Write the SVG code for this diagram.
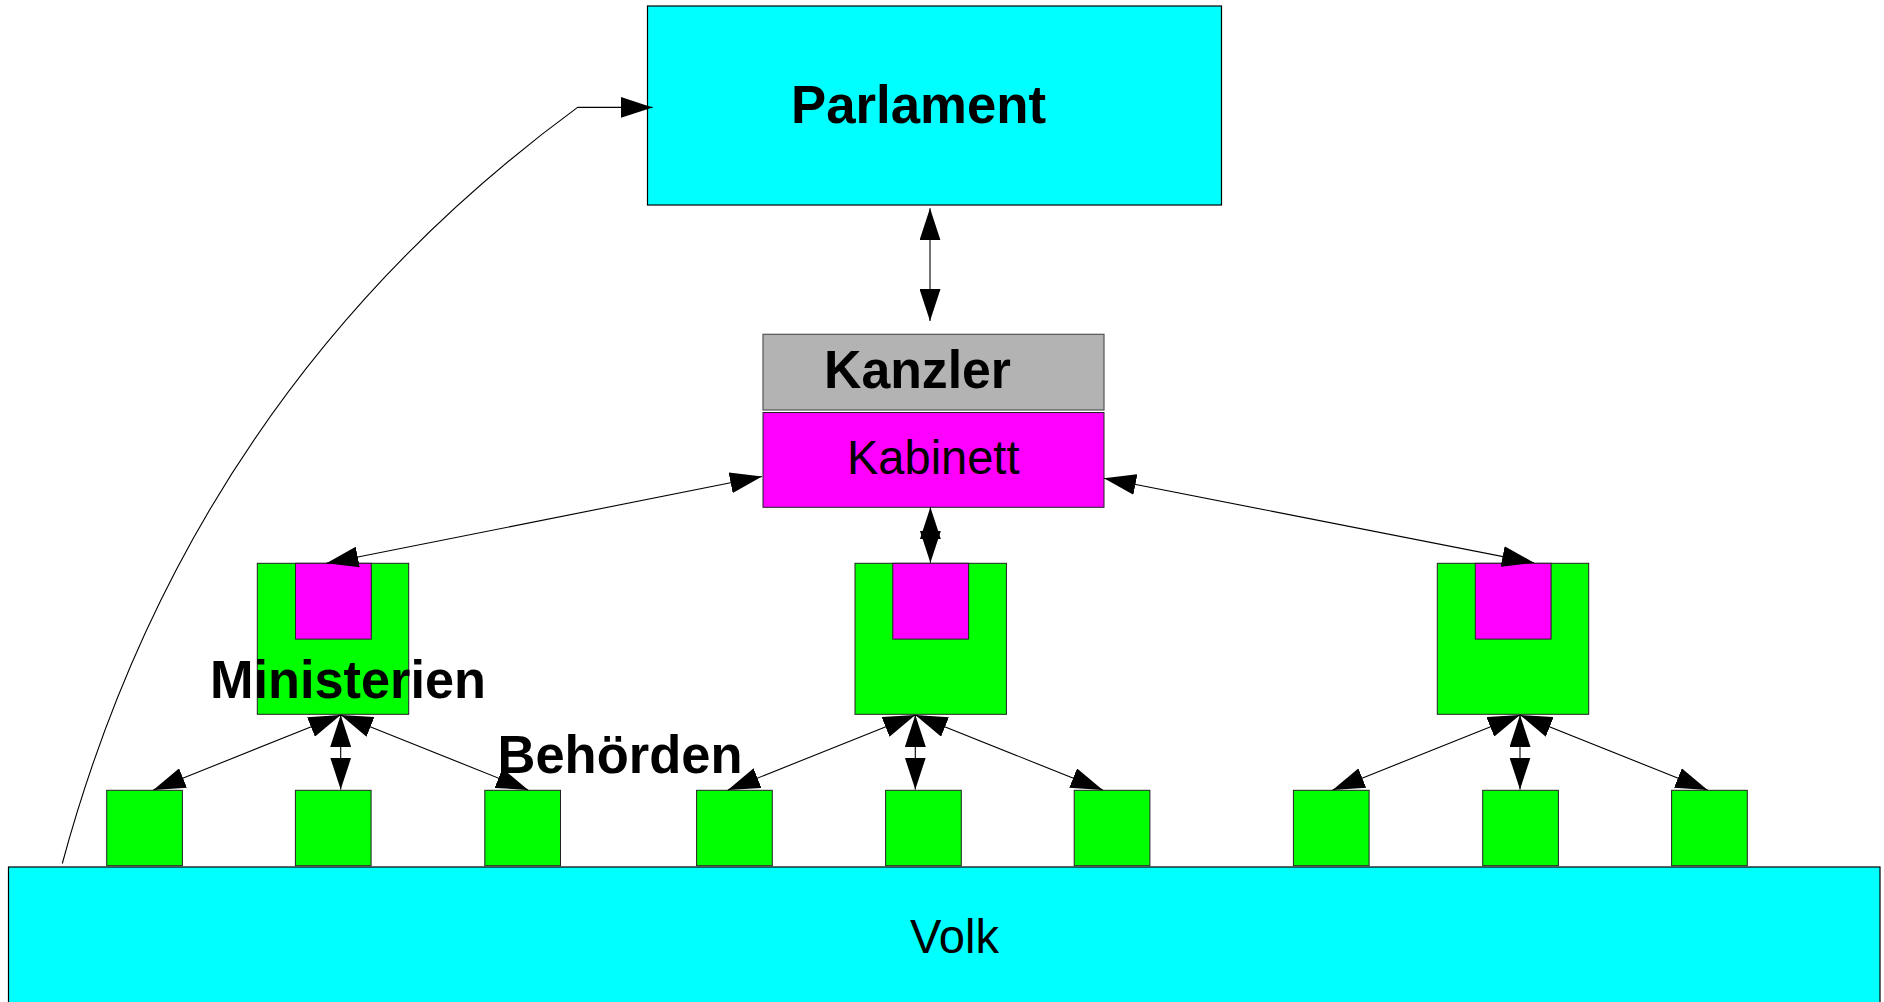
<svg xmlns="http://www.w3.org/2000/svg" width="1884" height="1002" viewBox="0 0 1884 1002">
<style>
.cyan{fill:#00ffff;stroke:#000;stroke-width:1.2}
.green{fill:#00ff00;stroke:#222;stroke-width:1}
.mag{fill:#ff00ff;stroke:#222;stroke-width:1}
.gray{fill:#b3b3b3;stroke:#555;stroke-width:1.2}
.b{font-family:"Liberation Sans",Arial,sans-serif;font-weight:bold;font-size:54px;fill:#000}
.r{font-family:"Liberation Sans",Arial,sans-serif;font-size:48px;fill:#000}
.c{fill:none;stroke:#000;stroke-width:1.1;marker-start:url(#ah);marker-end:url(#ah)}
.c1{fill:none;stroke:#000;stroke-width:1.1;marker-end:url(#ah)}
</style>
<defs>
<marker id="ah" viewBox="0 0 32 21" refX="32" refY="10.5" markerWidth="32" markerHeight="21" markerUnits="userSpaceOnUse" orient="auto-start-reverse">
<path d="M0,0 L32,10.5 L0,21 z" fill="#000"/>
</marker>
</defs>
<rect width="1884" height="1002" fill="#fff"/>

<g id="volk">
<rect class="cyan" x="8.5" y="867" width="1871.5" height="140"/>
<text class="r" x="910" y="953.3" textLength="89" lengthAdjust="spacingAndGlyphs">Volk</text>
</g>

<g id="parlament">
<rect class="cyan" x="647.5" y="6" width="574" height="199"/>
<text class="b" x="791" y="123" textLength="255" lengthAdjust="spacingAndGlyphs">Parlament</text>
</g>

<g id="kanzler">
<rect class="gray" x="763" y="334.3" width="341" height="75.7"/>
<text class="b" x="824" y="388.3" textLength="187" lengthAdjust="spacingAndGlyphs">Kanzler</text>
</g>

<g id="kabinett">
<rect class="mag" x="763" y="412.5" width="341" height="94.8"/>
<text class="r" x="847" y="474.3" textLength="172.5" lengthAdjust="spacingAndGlyphs">Kabinett</text>
</g>

<g id="ministerium1">
<rect class="green" x="257.3" y="563.3" width="151.4" height="151"/>
<rect class="mag" x="295.5" y="563.3" width="75.8" height="75.8"/>
</g>
<g id="ministerium2">
<rect class="green" x="855" y="563.3" width="151.4" height="151"/>
<rect class="mag" x="892.8" y="563.3" width="75.8" height="75.8"/>
</g>
<g id="ministerium3">
<rect class="green" x="1437.3" y="563.3" width="151.4" height="151"/>
<rect class="mag" x="1475.3" y="563.3" width="75.8" height="75.8"/>
</g>

<g id="behoerden">
<rect class="green" x="106.7" y="790.3" width="75.7" height="75.4"/>
<rect class="green" x="295.4" y="790.3" width="75.7" height="75.4"/>
<rect class="green" x="484.8" y="790.3" width="75.7" height="75.4"/>
<rect class="green" x="696.6" y="790.3" width="75.7" height="75.4"/>
<rect class="green" x="885.6" y="790.3" width="75.7" height="75.4"/>
<rect class="green" x="1074.2" y="790.3" width="75.7" height="75.4"/>
<rect class="green" x="1293.4" y="790.3" width="75.7" height="75.4"/>
<rect class="green" x="1482.7" y="790.3" width="75.7" height="75.4"/>
<rect class="green" x="1671.6" y="790.3" width="75.7" height="75.4"/>
</g>

<g id="labels">
<text class="b" x="210" y="697.8" textLength="276" lengthAdjust="spacingAndGlyphs">Ministerien</text>
<text class="b" x="497.5" y="772.8" textLength="245" lengthAdjust="spacingAndGlyphs">Behörden</text>
</g>

<g id="connectors">
<path class="c1" d="M62.3,863.5 Q190,391.5 577.6,107.4 L652.6,107.4"/>
<line class="c" x1="930" y1="208.3" x2="930" y2="321"/>
<line class="c" x1="762" y1="476.5" x2="326.4" y2="563.3"/>
<line class="c" x1="1104" y1="478.3" x2="1534" y2="562.7"/>
<line class="c" x1="930.4" y1="507.3" x2="930.4" y2="562.7"/>

<line class="c" x1="340.7" y1="715" x2="153.3" y2="790"/>
<line class="c" x1="340.7" y1="715" x2="340.7" y2="789.5"/>
<line class="c" x1="340.7" y1="715" x2="528.2" y2="790"/>

<line class="c" x1="915.3" y1="715" x2="727.8" y2="790"/>
<line class="c" x1="915.3" y1="715" x2="915.3" y2="789.5"/>
<line class="c" x1="915.3" y1="715" x2="1102.8" y2="790"/>

<line class="c" x1="1520" y1="715" x2="1332.6" y2="790"/>
<line class="c" x1="1520" y1="715" x2="1520" y2="789.5"/>
<line class="c" x1="1520" y1="715" x2="1707.6" y2="790"/>
</g>
</svg>
